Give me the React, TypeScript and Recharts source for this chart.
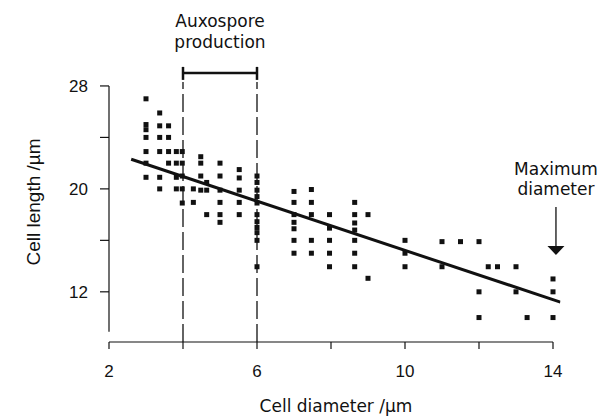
import {
    ScatterChart,
    Scatter,
    XAxis,
    YAxis,
    ReferenceLine,
    ReferenceDot,
} from 'recharts';

// cell diameter (µm) of each column of measurements
const diameters = [
    3.0, 3.37, 3.61, 3.82, 3.98, 4.28, 4.48, 4.64, 5.0, 5.52, 6.0, 7.0, 7.47,
    7.96, 8.64, 9.0, 10.0, 11.0, 11.5, 12.0, 12.25, 12.5, 13.0, 13.3, 14.0,
];

// cell lengths (µm) measured at each diameter above
const lengths = [
    [27, 25, 24.6, 24, 22.9, 22, 20.9],
    [25.9, 24.9, 24, 22.9, 20.9, 20],
    [24.9, 24, 22.9, 22],
    [22.9, 22, 20.9, 20],
    [22.9, 22, 21, 20, 18.9],
    [20, 18.95],
    [22.5, 22, 21, 19.9],
    [20.5, 19.9, 18],
    [22, 21, 19.9, 18.95, 18, 17.4],
    [21.5, 20.85, 19.9, 18.95, 18],
    [21, 20.5, 19.9, 19.4, 18.9, 18, 17.45, 17, 16.6, 16, 13.95],
    [19.8, 18.95, 18, 17.4, 16.9, 16, 15],
    [19.95, 18.95, 18, 16, 15],
    [18, 16.95, 16, 15, 13.95],
    [18.95, 18, 17.35, 16.8, 16, 15, 13.95],
    [18, 13.05],
    [16, 15, 13.95],
    [15.9, 13.95],
    [15.9],
    [15.9, 12, 10],
    [13.95],
    [13.95],
    [13.95, 12],
    [10],
    [13, 12, 10],
];

// end points of the regression line
const fitLine = [
    { d: 2.6, l: 22.3 },
    { d: 14.2, l: 11.2 },
];

const xTicks = [2, 4, 6, 8, 10, 12, 14];
const xLabels = [2, 6, 10, 14];
const yTicks = [12, 16, 20, 24, 28];
const yLabels = [12, 20, 28];

const auxospore = { from: 4, to: 6 };
const maxDiameter = 14.08;

const points = diameters.flatMap((d, i) => lengths[i].map((l) => ({ d, l })));

const INK = '#111';
const ROUND = '"DejaVu Sans", sans-serif';
const PLAIN = '"Liberation Sans", Arial, sans-serif';

const Square = (props: any) => (
    <rect x={props.cx - 2.5} y={props.cy - 2.5} width={5} height={5} fill={INK} />
);

export default function App() {
    return (
        <div
            style={{
                position: 'absolute',
                left: 0,
                top: 0,
                width: 602,
                height: 417,
                background: '#fff',
            }}
        >
            <ScatterChart
                width={602}
                height={417}
                margin={{ top: 66, right: 41.6, bottom: 0, left: 0 }}
            >
                <XAxis
                    type="number"
                    dataKey="d"
                    domain={[2, 14.2]}
                    allowDataOverflow
                    ticks={xTicks}
                    tickFormatter={(v) => (xLabels.includes(v) ? String(v) : '')}
                    height={75}
                    axisLine={false}
                    tickLine={{ stroke: INK, strokeWidth: 1.2 }}
                    tickSize={7}
                    tickMargin={16}
                    tick={{ fill: INK, fontSize: 17, fontFamily: PLAIN }}
                    label={{
                        content: (p: any) => (
                            <text
                                x={336}
                                y={p.viewBox.y + 70}
                                textAnchor="middle"
                                fill={INK}
                                fontSize={17}
                                fontFamily={ROUND}
                            >
                                Cell diameter /µm
                            </text>
                        ),
                    }}
                />
                <YAxis
                    type="number"
                    dataKey="l"
                    domain={[8.1, 29.55]}
                    allowDataOverflow
                    ticks={yTicks}
                    tickFormatter={(v) => (yLabels.includes(v) ? String(v) : '')}
                    width={109}
                    axisLine={false}
                    tickLine={{ stroke: INK, strokeWidth: 1.2 }}
                    tickSize={9}
                    tickMargin={12}
                    tick={{ fill: INK, fontSize: 17, fontFamily: PLAIN }}
                    label={{
                        content: (p: any) => (
                            <text
                                x={33}
                                y={p.viewBox.y + p.viewBox.height / 2 - 2}
                                transform={`rotate(-90 33 ${p.viewBox.y + p.viewBox.height / 2 - 2})`}
                                textAnchor="middle"
                                dominantBaseline="central"
                                fill={INK}
                                fontSize={19}
                                fontFamily={PLAIN}
                            >
                                Cell length /µm
                            </text>
                        ),
                    }}
                />

                {/* axis lines: x runs 2..14, y stops short of the x axis */}
                <ReferenceLine
                    segment={[
                        { x: 2, y: 8.1 },
                        { x: 14, y: 8.1 },
                    ]}
                    stroke={INK}
                    strokeWidth={1.2}
                />
                <ReferenceLine
                    segment={[
                        { x: 2, y: 8.9 },
                        { x: 2, y: 28 },
                    ]}
                    stroke={INK}
                    strokeWidth={1.2}
                />

                {/* auxospore production range */}
                <ReferenceLine
                    segment={[
                        { x: auxospore.from, y: 8.1 },
                        { x: auxospore.from, y: 28.3 },
                    ]}
                    stroke={INK}
                    strokeWidth={1.3}
                    strokeDasharray="18 5"
                />
                <ReferenceLine
                    segment={[
                        { x: auxospore.to, y: 8.1 },
                        { x: auxospore.to, y: 28.3 },
                    ]}
                    stroke={INK}
                    strokeWidth={1.3}
                    strokeDasharray="18 5"
                />
                <ReferenceLine
                    segment={[
                        { x: auxospore.from, y: 29.0 },
                        { x: auxospore.to, y: 29.0 },
                    ]}
                    stroke={INK}
                    strokeWidth={2.5}
                    ifOverflow="visible"
                />
                <ReferenceLine
                    segment={[
                        { x: auxospore.from, y: 28.47 },
                        { x: auxospore.from, y: 29.48 },
                    ]}
                    stroke={INK}
                    strokeWidth={2.5}
                    ifOverflow="visible"
                />
                <ReferenceLine
                    segment={[
                        { x: auxospore.to, y: 28.47 },
                        { x: auxospore.to, y: 29.48 },
                    ]}
                    stroke={INK}
                    strokeWidth={2.5}
                    ifOverflow="visible"
                />
                <ReferenceDot
                    x={(auxospore.from + auxospore.to) / 2}
                    y={29.0}
                    ifOverflow="visible"
                    shape={(p: any) => (
                        <g fill={INK} fontSize={17} fontFamily={ROUND} textAnchor="middle">
                            <text x={p.cx} y={p.cy - 46}>
                                Auxospore
                            </text>
                            <text x={p.cx} y={p.cy - 25}>
                                production
                            </text>
                        </g>
                    )}
                />

                {/* maximum diameter arrow */}
                <ReferenceDot
                    x={maxDiameter}
                    y={14.87}
                    ifOverflow="visible"
                    shape={(p: any) => (
                        <g>
                            <line
                                x1={p.cx}
                                x2={p.cx}
                                y1={p.cy - 48}
                                y2={p.cy - 8}
                                stroke={INK}
                                strokeWidth={1.3}
                            />
                            <path
                                d={`M${p.cx - 8.5},${p.cy - 9} L${p.cx + 8.5},${p.cy - 9} L${p.cx},${p.cy} Z`}
                                fill={INK}
                            />
                            <g fill={INK} fontSize={17} fontFamily={ROUND} textAnchor="middle">
                                <text x={p.cx} y={p.cy - 80}>
                                    Maximum
                                </text>
                                <text x={p.cx} y={p.cy - 60}>
                                    diameter
                                </text>
                            </g>
                        </g>
                    )}
                />

                <Scatter data={points} shape={Square} isAnimationActive={false} />
                <Scatter
                    data={fitLine}
                    line={{ stroke: INK, strokeWidth: 3 }}
                    shape={() => <g />}
                    isAnimationActive={false}
                />
            </ScatterChart>
        </div>
    );
}
